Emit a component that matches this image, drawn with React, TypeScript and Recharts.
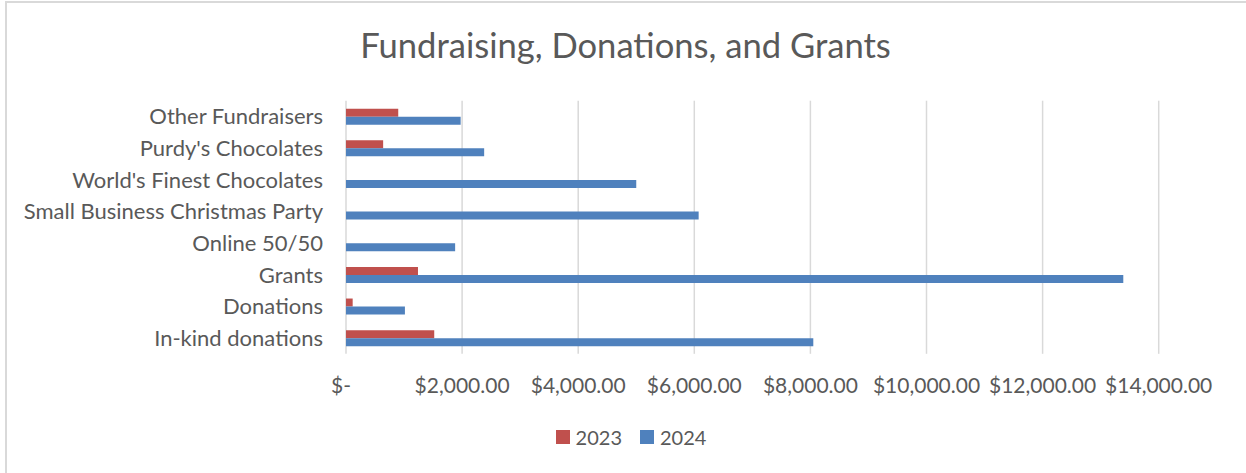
import { BarChart, Bar, XAxis, YAxis, CartesianGrid, Legend } from "recharts";

const categories = [
  "Other Fundraisers",
  "Purdy's Chocolates",
  "World's Finest Chocolates",
  "Small Business Christmas Party",
  "Online 50/50",
  "Grants",
  "Donations",
  "In-kind donations",
];

// null = no bar for that year
const values2023 = [900, 640, null, null, null, 1240, 115, 1520];
const values2024 = [1975, 2380, 5000, 6075, 1880, 13390, 1015, 8050];

const xTicks = [0, 2000, 4000, 6000, 8000, 10000, 12000, 14000];

const RED = "#c0504d";
const BLUE = "#4f81bd";
const TEXT = "#595959";
const FONT = "Lato, 'Noto Sans', sans-serif";

const data = categories.map((name, i) => ({
  name,
  y2023: values2023[i],
  y2024: values2024[i],
}));

const fmtMoney = (v: number) =>
  v === 0
    ? "$-"
    : "$" + v.toLocaleString("en-US", { minimumFractionDigits: 2, maximumFractionDigits: 2 });

function XTick(props: any) {
  const { x, y, payload } = props;
  const shift = payload.value === 0 ? -5 : 0;
  return (
    <text
      x={x + shift}
      y={y}
      dy="0.71em"
      textAnchor="middle"
      fill={TEXT}
      fontSize={21}
      fontFamily={FONT}
    >
      {fmtMoney(payload.value)}
    </text>
  );
}

function LegendContent(props: any) {
  const items = props.payload || [];
  return (
    <div
      style={{
        display: "flex",
        justifyContent: "center",
        gap: 18,
        fontFamily: FONT,
        fontSize: 20,
        lineHeight: "24px",
        color: TEXT,
        paddingLeft: 16,
      }}
    >
      {items.map((it: any) => (
        <div key={it.value} style={{ display: "flex", alignItems: "center", gap: 6 }}>
          <span style={{ display: "inline-block", width: 14, height: 14, background: it.color }} />
          <span>{it.value}</span>
        </div>
      ))}
    </div>
  );
}

export default function App() {
  return (
    <div
      style={{
        position: "absolute",
        left: 0,
        top: 0,
        width: 1246,
        height: 473,
        background: "#fff",
        overflow: "hidden",
      }}
    >
      <div
        style={{
          position: "absolute",
          left: 5,
          top: 1,
          right: -4,
          bottom: -4,
          borderLeft: "2px solid #d9d9d9",
          borderTop: "2px solid #d9d9d9",
        }}
      />
      <div
        style={{
          position: "absolute",
          left: 5,
          top: 28,
          width: 1241,
          textAlign: "center",
          fontFamily: FONT,
          fontSize: 34.6,
          lineHeight: 1,
          color: TEXT,
        }}
      >
        Fundraising, Donations, and Grants
      </div>
      <BarChart
        width={1246}
        height={473}
        data={data}
        layout="vertical"
        barSize={8}
        barGap={0}
        margin={{ top: 100.7, right: 87.3, bottom: 55.2, left: 6 }}
      >
        <CartesianGrid horizontal={false} stroke="#d9d9d9" strokeWidth={1.5} />
        <XAxis
          type="number"
          domain={[0, 14000]}
          ticks={xTicks}
          interval={0}
          axisLine={false}
          tickLine={false}
          tickSize={0}
          tickMargin={24}
          height={40}
          tick={<XTick />}
        />
        <YAxis
          type="category"
          dataKey="name"
          width={340}
          axisLine={false}
          tickLine={false}
          tickSize={0}
          tickMargin={23}
          interval={0}
          tick={{ fill: TEXT, fontSize: 22, fontFamily: FONT }}
        />
        <Legend
          content={<LegendContent />}
          wrapperStyle={{ top: 425, bottom: "auto", left: 0, width: 1246, height: 24 }}
        />
        <Bar dataKey="y2023" name="2023" fill={RED} isAnimationActive={false} />
        <Bar dataKey="y2024" name="2024" fill={BLUE} isAnimationActive={false} />
      </BarChart>
    </div>
  );
}
